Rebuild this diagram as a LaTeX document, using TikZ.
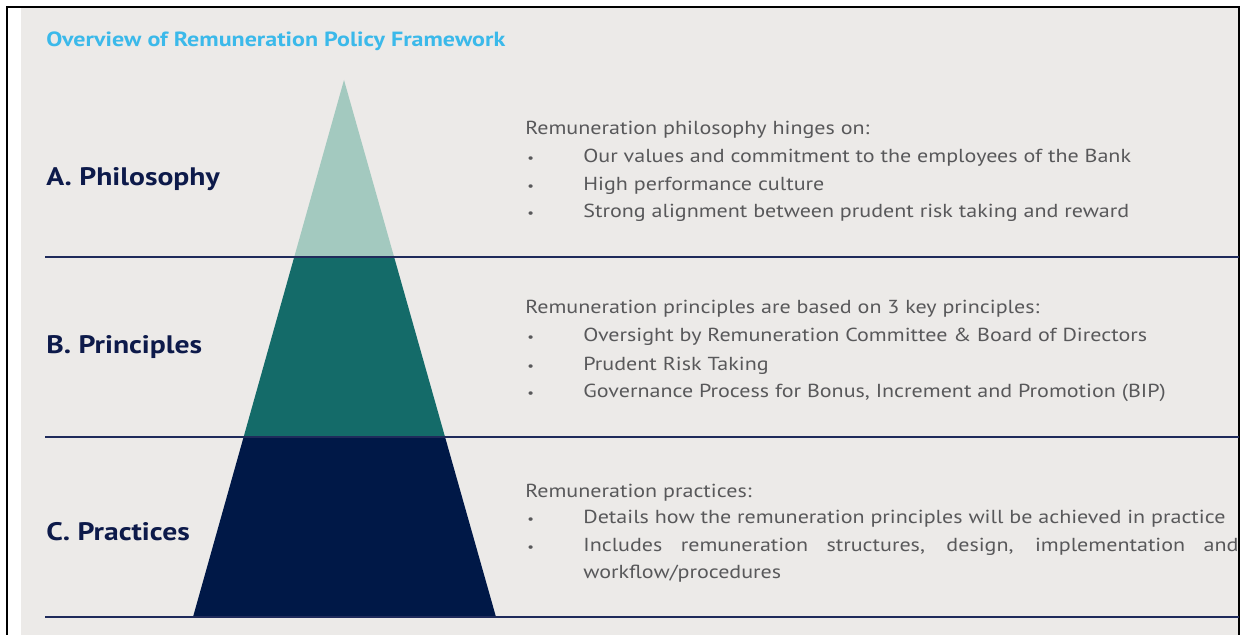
\documentclass[tikz,border=0pt]{standalone}
\usepackage{fontspec}
\setmainfont[FakeStretch=1.17]{PT Sans}
\usetikzlibrary{calc}

\definecolor{panelgray}{HTML}{ECEAE8}
\definecolor{titlecyan}{HTML}{3BB9EA}
\definecolor{headnavy}{HTML}{0D1A4A}
\definecolor{bodygray}{HTML}{58585A}
\definecolor{rulenavy}{HTML}{1F2B5B}
\definecolor{tierlight}{HTML}{A3C9BF}
\definecolor{tiermid}{HTML}{146B69}
\definecolor{tierdark}{HTML}{001847}

\newcommand{\bul}{\makebox[41.3pt][l]{\hspace{1.5pt}{\fontsize{9}{9}\selectfont\textbullet}}}

\begin{document}
\begin{tikzpicture}[x=0.025cm, y=-0.025cm,
  titletext/.style={anchor=base west, inner sep=0pt, text=titlecyan, font=\fontsize{14.6}{16}\selectfont\bfseries},
  headtext/.style={anchor=base west, inner sep=0pt, text=headnavy, font=\fontsize{18}{20}\selectfont\bfseries},
  bodytext/.style={anchor=base west, inner sep=0pt, text=bodygray, font=\fontsize{13.4}{15}\selectfont},
  tierrule/.style={draw=rulenavy, line width=1.4pt},
]
\useasboundingbox (0,0) rectangle (1248,635);
% frame and panel
\fill[panelgray] (21,8) rectangle (1239,635);
\draw[black, line width=1.4pt] (7,635) -- (7,7) -- (1239,7) -- (1239,635);
% pyramid
\coordinate (apex) at (344,80);
\coordinate (baseL) at (193,617);
\coordinate (baseR) at (496,617);
\coordinate (aL) at ($(apex)!0.3296!(baseL)$);
\coordinate (aR) at ($(apex)!0.3296!(baseR)$);
\coordinate (bL) at ($(apex)!0.6648!(baseL)$);
\coordinate (bR) at ($(apex)!0.6648!(baseR)$);
\fill[tierlight] (apex) -- (aR) -- (aL) -- cycle;
\fill[tiermid] (aL) -- (aR) -- (bR) -- (bL) -- cycle;
\fill[tierdark] (bL) -- (bR) -- (baseR) -- (baseL) -- cycle;
% rules
\coordinate (ruleA0) at (45,257);  \coordinate (ruleA1) at (1239,257);
\coordinate (ruleB0) at (45,437);  \coordinate (ruleB1) at (1239,437);
\coordinate (ruleC0) at (45,617);  \coordinate (ruleC1) at (1239,617);
\draw[tierrule] (ruleA0) -- (ruleA1);
\draw[tierrule] (ruleB0) -- (ruleB1);
\draw[tierrule] (ruleC0) -- (ruleC1);
% nodes
\node[titletext] (title) at (46,47) {Overview of Remuneration Policy Framework};
\node[headtext] (philosophy) at (46,186) {A. Philosophy};
\node[headtext] (principles) at (46,354) {B. Principles};
\node[headtext] (practices) at (46,540) {C. Practices};
% philosophy text
\node[bodytext] (phil_head) at (525,135) {Remuneration philosophy hinges on:};
\node[bodytext] (phil_1) at (525,163) {\bul Our values and commitment to the employees of the Bank};
\node[bodytext] (phil_2) at (525,191) {\bul High performance culture};
\node[bodytext] (phil_3) at (525,218) {\bul Strong alignment between prudent risk taking and reward};
% principles text
\node[bodytext] (prin_head) at (525,314) {Remuneration principles are based on 3 key principles:};
\node[bodytext] (prin_1) at (525,342) {\bul Oversight by Remuneration Committee \& Board of Directors};
\node[bodytext] (prin_2) at (525,370) {\bul Prudent Risk Taking};
\node[bodytext] (prin_3) at (525,397) {\bul Governance Process for Bonus, Increment and Promotion (BIP)};
% practices text
\node[bodytext] (prac_head) at (525,497) {Remuneration practices:};
\node[bodytext] (prac_1) at (525,523) {\bul Details how the remuneration principles will be achieved in practice};
\node[bodytext] (prac_2) at (525,551) {\bul \makebox[465.9pt][s]{Includes remuneration structures, design, implementation and}};
\node[bodytext] (prac_3) at (583,578) {workflow/procedures};
\end{tikzpicture}
\end{document}
